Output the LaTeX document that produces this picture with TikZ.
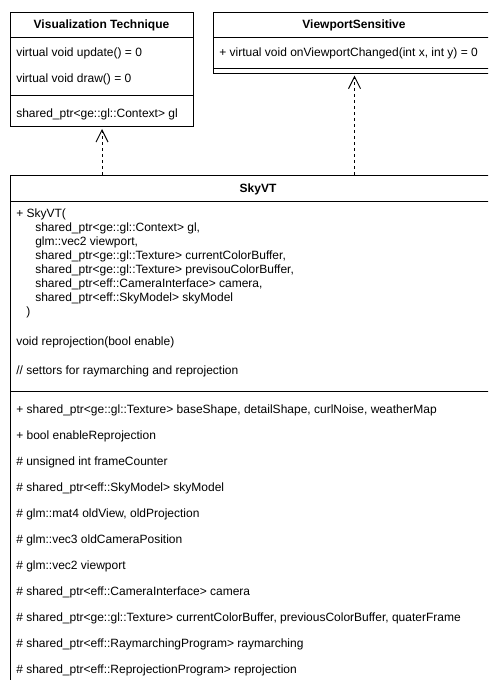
\documentclass[tikz,border=0pt]{standalone}
\usepackage{fontspec}
\setmainfont{Liberation Sans}
\usetikzlibrary{arrows.meta}
\begin{document}
\begin{tikzpicture}[x=0.75pt,y=-0.75pt,
  box/.style={draw=black, line width=0.75pt, fill=white, inner sep=0pt, anchor=north west},
  txt/.style={anchor=mid west, inner sep=0pt, font=\fontsize{9}{10.8}\selectfont},
  ttl/.style={anchor=mid, inner sep=0pt, font=\fontsize{9}{10.8}\selectfont\bfseries},
  sepline/.style={draw=black, line width=0.75pt},
  rel/.style={draw=black, line width=0.75pt, dash pattern=on 2.25pt off 2.25pt,
    -{Straight Barb[length=9pt,width=9pt,line width=0.75pt]}}
]
\useasboundingbox (0,0) rectangle (488,680);
\clip (0,0) rectangle (488,680);

% ---------- Visualization Technique ----------
\node[box, minimum width=137.25pt, minimum height=85.5pt] (vis) at (10,12) {};
\node[ttl] (visT) at (101.5,25) {Visualization Technique};
\draw[sepline] (vis.west |- 0,38) -- (vis.east |- 0,38);
\node[txt] (visM1) at (16,52.5) {virtual void update() = 0};
\node[txt] (visM2) at (16,78.5) {virtual void draw() = 0};
\draw[sepline] (vis.west |- 0,95.5) -- (vis.east |- 0,95.5);
\node[txt] (visA1) at (16,113.5) {shared\_ptr<ge::gl::Context> gl};

% ---------- ViewportSensitive ----------
\node[box, minimum width=211.5pt, minimum height=45.4pt] (vps) at (213,12) {};
\node[ttl] (vpsT) at (354,25) {ViewportSensitive};
\draw[sepline] (vps.west |- 0,38) -- (vps.east |- 0,38);
\node[txt] (vpsM1) at (219,52.7) {+ virtual void onViewportChanged(int x, int y) = 0};
\draw[sepline] (vps.west |- 0,68.5) -- (vps.east |- 0,68.5);

% ---------- SkyVT ----------
\node[box, minimum width=372.75pt, minimum height=390pt] (sky) at (10,175) {};
\node[ttl] (skyT) at (258,188.5) {SkyVT};
\draw[sepline] (sky.west |- 0,202) -- (sky.east |- 0,202);
\node[txt] (c0) at (16,214) {+ SkyVT(};
\node[txt] (c1) at (35,228) {shared\_ptr<ge::gl::Context> gl,};
\node[txt] (c2) at (35,242) {glm::vec2 viewport,};
\node[txt] (c3) at (35,256) {shared\_ptr<ge::gl::Texture> currentColorBuffer,};
\node[txt] (c4) at (35,270) {shared\_ptr<ge::gl::Texture> previsouColorBuffer,};
\node[txt] (c5) at (35,284) {shared\_ptr<eff::CameraInterface> camera,};
\node[txt] (c6) at (35,298) {shared\_ptr<eff::SkyModel> skyModel};
\node[txt] (c7) at (26,312) {)};
\node[txt] (m1) at (16,342) {void reprojection(bool enable)};
\node[txt] (m2) at (16,371) {// settors for raymarching and reprojection};
\draw[sepline] (sky.west |- 0,391) -- (sky.east |- 0,391);
\node[txt] (a1) at (16,410) {+ shared\_ptr<ge::gl::Texture> baseShape, detailShape, curlNoise, weatherMap};
\node[txt] (a2) at (16,436) {+ bool enableReprojection};
\node[txt] (a3) at (16,462) {\# unsigned int frameCounter};
\node[txt] (a4) at (16,488) {\# shared\_ptr<eff::SkyModel> skyModel};
\node[txt] (a5) at (16,514) {\# glm::mat4 oldView, oldProjection};
\node[txt] (a6) at (16,540) {\# glm::vec3 oldCameraPosition};
\node[txt] (a7) at (16,566) {\# glm::vec2 viewport};
\node[txt] (a8) at (16,592) {\# shared\_ptr<eff::CameraInterface> camera};
\node[txt] (a9) at (16,618) {\# shared\_ptr<ge::gl::Texture> currentColorBuffer, previousColorBuffer, quaterFrame};
\node[txt] (a10) at (16,644) {\# shared\_ptr<eff::RaymarchingProgram> raymarching};
\node[txt] (a11) at (16,670) {\# shared\_ptr<eff::ReprojectionProgram> reprojection};

% ---------- realizations ----------
\draw[rel] (vis.south |- sky.north) -- ([yshift=-1.5pt]vis.south);
\draw[rel] (vps.south |- sky.north) -- ([yshift=-1.5pt]vps.south);
\end{tikzpicture}
\end{document}
